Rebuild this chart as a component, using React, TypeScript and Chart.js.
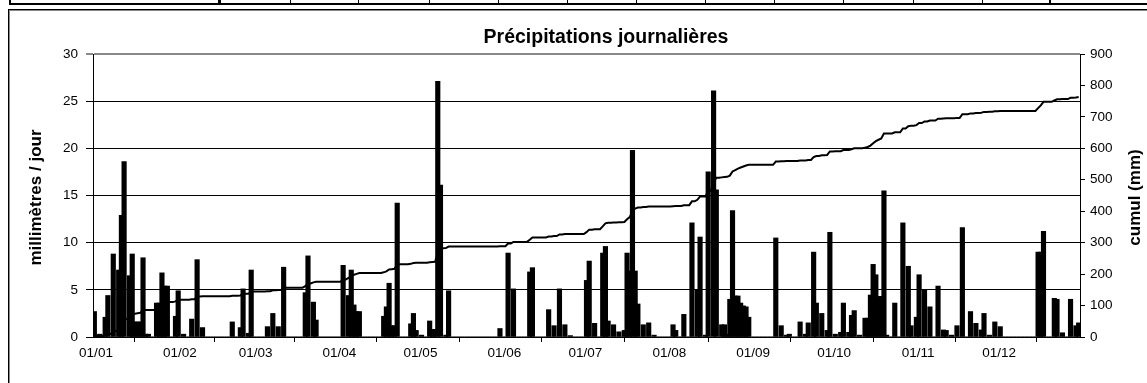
import React, { useEffect, useRef } from 'react';
import { Chart, registerables } from 'chart.js';

Chart.register(...registerables);

const TITLE = 'Précipitations journalières';
const Y_LEFT_TITLE = 'millimètres / jour';
const Y_RIGHT_TITLE = 'cumul (mm)';
const MONTH_LABELS = ['01/01', '01/02', '01/03', '01/04', '01/05', '01/06', '01/07', '01/08', '01/09', '01/10', '01/11', '01/12'];
const MONTH_LENGTHS = [31, 28, 31, 30, 31, 30, 31, 31, 30, 31, 30, 31];

// [day of month, mm]
const jan = [[1, 2.7], [2, 0.2], [3, 0.3], [5, 2.1], [6, 4.4], [8, 8.8], [10, 7.1], [11, 12.9], [12, 18.6], [14, 6.5], [15, 8.8], [16, 1.6], [17, 1.6], [18, 1.6], [19, 8.4], [20, 0.3], [21, 0.3], [24, 3.6], [25, 3.6], [26, 6.8], [27, 5.4], [28, 5.4], [31, 2.2]];
const feb = [[1, 4.9], [3, 0.3], [6, 1.9], [8, 8.2], [10, 1.0], [21, 1.6], [24, 1.0], [25, 5.1], [27, 0.4], [28, 7.1]];
const mar = [[6, 1.1], [8, 2.5], [10, 1.1], [12, 7.4], [20, 4.7], [21, 8.6], [23, 3.7], [24, 1.8]];
const apr = [[3, 7.6], [5, 4.4], [6, 7.1], [7, 3.4], [8, 2.7], [9, 2.7], [18, 2.2], [19, 3.2], [20, 5.7], [21, 1.2], [22, 1.2], [23, 14.2], [28, 1.4], [29, 2.5], [30, 0.7]];
const may = [[2, 0.2], [5, 1.7], [6, 0.8], [7, 0.8], [8, 27.1], [9, 16.1], [11, 0.2], [12, 4.9], [31, 0.9]];
const jun = [[3, 8.9], [5, 5.1], [11, 6.9], [12, 7.35], [18, 2.9], [20, 1.2], [22, 5.1], [24, 1.3], [26, 0.15]];
const jul = [[2, 6.0], [3, 8.05], [5, 1.45], [8, 8.9], [9, 9.6], [10, 1.7], [12, 1.3], [14, 0.55], [16, 0.7], [17, 8.9], [18, 7.0], [19, 19.8], [20, 7.0], [21, 3.5], [23, 1.3], [25, 1.5], [27, 0.2]];
const aug = [[3, 1.3], [4, 0.7], [7, 2.4], [10, 12.1], [12, 5.0], [13, 10.6], [15, 0.2], [16, 17.5], [18, 26.1], [19, 15.6], [21, 1.3], [22, 1.3], [23, 0.3], [24, 4.0], [25, 13.4], [26, 4.35], [27, 4.35], [28, 3.6], [29, 3.3], [30, 3.2], [31, 2.1]];
const sep = [[10, 10.5], [12, 1.2], [14, 0.2], [15, 0.3], [19, 1.6], [21, 0.3], [22, 1.5], [24, 9.0], [25, 3.6], [27, 2.5], [29, 0.7], [30, 11.1]];
const oct = [[2, 0.3], [4, 0.5], [5, 3.6], [7, 0.5], [8, 2.3], [9, 2.8], [11, 0.2], [13, 2.0], [14, 2.0], [15, 4.45], [16, 7.7], [17, 6.6], [18, 4.3], [19, 4.3], [20, 15.5], [21, 0.2], [24, 3.6], [27, 12.1], [29, 7.5], [30, 1.2]];
const nov = [[1, 2.1], [2, 6.6], [4, 5.0], [6, 3.2], [9, 5.4], [11, 0.75], [12, 0.7], [14, 0.2], [16, 1.2], [18, 11.6], [21, 2.7], [23, 1.45], [25, 0.75], [26, 2.5], [28, 0.2], [30, 1.6]];
const dec = [[2, 1.1], [16, 9.0], [17, 9.0], [18, 11.2], [22, 4.1], [23, 4.0], [25, 0.45], [28, 4.0], [30, 1.2], [31, 1.5]];

const MONTHS = [jan, feb, mar, apr, may, jun, jul, aug, sep, oct, nov, dec];
const Y_LEFT_MAX = 30;
const Y_LEFT_STEP = 5;
const Y_RIGHT_MAX = 900;
const Y_RIGHT_STEP = 100;

const FONT = "'Liberation Sans', Arial, sans-serif";

function buildDaily(): number[] {
  const daily: number[] = [];
  MONTHS.forEach((m, i) => {
    const arr = new Array(MONTH_LENGTHS[i]).fill(0);
    m.forEach(([day, v]) => {
      arr[day - 1] = v;
    });
    daily.push(...arr);
  });
  return daily;
}

function monthStarts(): number[] {
  const starts: number[] = [];
  let s = 0;
  MONTH_LENGTHS.forEach((len) => {
    starts.push(s);
    s += len;
  });
  return starts;
}

const Frame = () => {
  const lines = [220, 290, 358, 429, 498, 567, 636, 705, 774, 843, 913, 982];
  return (
    <>
      <div style={{ position: 'absolute', left: 9, top: 0, width: 1138, height: 3, borderBottom: '2px solid #000' }} />
      <div style={{ position: 'absolute', left: 9, top: 0, width: 2, height: 4, background: '#000' }} />
      {lines.map((x) => (
        <div key={x} style={{ position: 'absolute', left: x, top: 0, width: 1, height: 4, background: '#000' }} />
      ))}
      <div style={{ position: 'absolute', left: 218, top: 0, width: 2, height: 4, background: '#000' }} />
      <div style={{ position: 'absolute', left: 1049, top: 0, width: 2, height: 4, background: '#000' }} />
      <div
        style={{
          position: 'absolute',
          left: 8,
          top: 9,
          width: 1160,
          height: 400,
          borderTop: '1px solid #000',
          borderLeft: '1px solid #000',
          boxShadow: 'inset 1px 1px 0 #888',
        }}
      />
    </>
  );
};

export default function App() {
  const ref = useRef<HTMLCanvasElement | null>(null);

  useEffect(() => {
    if (!ref.current) return;
    const daily = buildDaily();
    const starts = monthStarts();
    const barData = daily.map((v, d) => ({ x: d + 0.5, y: v }));
    let run = 0;
    const cumData = daily.map((v, d) => {
      run += v;
      return { x: d + 0.5, y: run };
    });
    const total = daily.length;

    const textPlugin = {
      id: 'texts',
      afterDraw(chart: any) {
        const { ctx, chartArea } = chart;
        const midY = (chartArea.top + chartArea.bottom) / 2 + 2;
        ctx.save();
        ctx.fillStyle = '#000';
        ctx.textAlign = 'center';
        ctx.textBaseline = 'middle';
        ctx.font = `bold 19.5px ${FONT}`;
        ctx.fillText(TITLE, 606, 38);
        ctx.font = `bold 17px ${FONT}`;
        ctx.save();
        ctx.translate(36, midY);
        ctx.rotate(-Math.PI / 2);
        ctx.fillText(Y_LEFT_TITLE, 0, 0);
        ctx.restore();
        ctx.save();
        ctx.translate(1135, midY);
        ctx.rotate(-Math.PI / 2);
        ctx.fillText(Y_RIGHT_TITLE, 0, 0);
        ctx.restore();
        ctx.restore();
      },
    };

    const tickFont = { family: FONT, size: 13.5 };

    const chart = new Chart(ref.current, {
      type: 'bar',
      data: {
        datasets: [
          {
            type: 'line',
            data: cumData,
            xAxisID: 'x',
            yAxisID: 'y1',
            borderColor: '#000',
            borderWidth: 2,
            pointRadius: 0,
            tension: 0,
            order: 0,
          } as any,
          {
            type: 'bar',
            data: barData,
            xAxisID: 'x',
            yAxisID: 'y',
            backgroundColor: '#000',
            borderWidth: 0,
            barThickness: 4.5,
            grouped: false,
            order: 1,
          } as any,
        ],
      },
      options: {
        animation: false,
        responsive: false,
        devicePixelRatio: 1,
        layout: { padding: { top: 54, left: 0, right: 0, bottom: 0 } },
        plugins: {
          legend: { display: false },
          tooltip: { enabled: false },
          title: { display: false },
        },
        scales: {
          x: {
            type: 'linear',
            min: 0,
            max: total,
            offset: false,
            afterBuildTicks: (s: any) => {
              s.ticks = starts.map((v) => ({ value: v }));
            },
            afterFit: (s: any) => {
              s.height = 46;
            },
            ticks: {
              autoSkip: false,
              maxRotation: 0,
              padding: 3,
              labelOffset: 3,
              color: '#000',
              font: tickFont,
              callback: (v: any) => {
                const i = starts.indexOf(Number(v));
                return i >= 0 ? MONTH_LABELS[i] : '';
              },
            },
            grid: { display: true, drawOnChartArea: false, drawTicks: true, tickLength: 5, color: '#000', lineWidth: 1 },
            border: { display: true, color: '#000', width: 1 },
          },
          y: {
            position: 'left',
            min: 0,
            max: Y_LEFT_MAX,
            afterFit: (s: any) => {
              s.width = 93;
            },
            ticks: { stepSize: Y_LEFT_STEP, padding: 8, color: '#000', font: tickFont },
            grid: {
              color: (c: any) => (c.tick && c.tick.value === Y_LEFT_MAX ? '#888' : '#000'),
              lineWidth: (c: any) => (c.tick && c.tick.value === Y_LEFT_MAX ? 2 : 1),
              tickLength: 7,
              drawTicks: true,
            },
            border: { display: true, color: '#000', width: 1 },
          },
          y1: {
            position: 'right',
            min: 0,
            max: Y_RIGHT_MAX,
            afterFit: (s: any) => {
              s.width = 67;
            },
            ticks: { stepSize: Y_RIGHT_STEP, padding: 5, color: '#000', font: tickFont },
            grid: { drawOnChartArea: false, drawTicks: true, tickLength: 5, color: '#000' },
            border: { display: true, color: '#000', width: 1 },
          },
        },
      } as any,
      plugins: [textPlugin],
    });
    return () => chart.destroy();
  }, []);

  return (
    <div style={{ position: 'absolute', left: 0, top: 0, width: 1147, height: 383, overflow: 'hidden', background: '#fff' }}>
      <Frame />
      <canvas ref={ref} width={1147} height={383} style={{ position: 'absolute', left: 0, top: 0, width: 1147, height: 383 }} />
    </div>
  );
}
